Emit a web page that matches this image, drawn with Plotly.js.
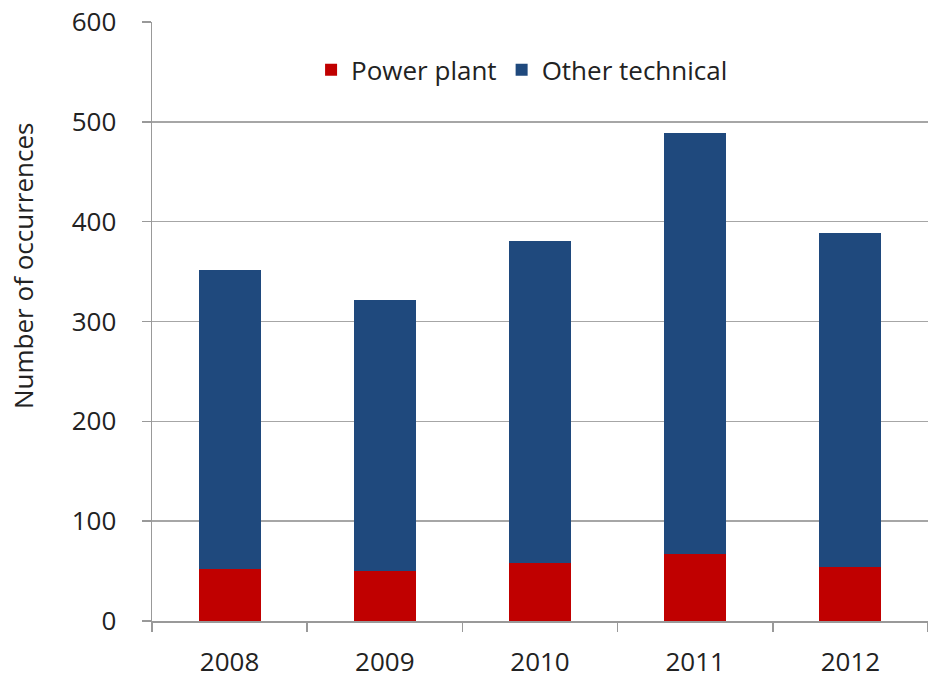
<!DOCTYPE html>
<html>
<head>
<meta charset="utf-8">
<script src="https://cdn.plot.ly/plotly-3.0.1.min.js"></script>
<style>html,body{margin:0;padding:0;background:#fff;}#chart{width:928px;height:678px;}</style>
</head>
<body>
<div id="chart"></div>
<script>
const years = ["2008", "2009", "2010", "2011", "2012"];
const powerPlant = [52, 50, 58, 67, 54];
const otherTechnical = [300, 272, 323, 422, 335];
const yTicks = [0, 100, 200, 300, 400, 500, 600];
const yTitle = "Number of occurrences";

const fontFamily = "Open Sans, Noto Sans, sans-serif";

const traces = [
  {type: "bar", name: "Power plant", x: years, y: powerPlant,
   marker: {color: "#c00000"}, hoverinfo: "x+y+name"},
  {type: "bar", name: "Other technical", x: years, y: otherTechnical,
   marker: {color: "#1f497d"}, hoverinfo: "x+y+name"}
];

const layout = {
  width: 928, height: 678,
  margin: {l: 152, r: 0, t: 22, b: 57, pad: 0},
  paper_bgcolor: "#fff", plot_bgcolor: "#fff",
  barmode: "stack", bargap: 0.6,
  font: {family: fontFamily, size: 26, color: "#222"},
  showlegend: true,
  legend: {orientation: "h", x: 0.205, xanchor: "left", y: 0.92, yanchor: "middle",
           traceorder: "normal", font: {size: 26, color: "#222"}, itemwidth: 30,
           bgcolor: "rgba(0,0,0,0)"},
  xaxis: {type: "category", showline: true, linecolor: "#999", linewidth: 1.5,
          ticks: "outside", tickson: "boundaries", ticklen: 9, tickcolor: "#999", tickwidth: 1.5,
          ticklabelstandoff: 17,
          tickfont: {size: 26, color: "#222"}, showgrid: false},
  yaxis: {range: [0, 600], tickvals: yTicks, ticktext: yTicks.map(String),
          showline: true, linecolor: "#999", linewidth: 1.5,
          ticks: "outside", ticklen: 9, tickcolor: "#999", tickwidth: 1.5,
          ticklabelstandoff: 20,
          gridcolor: "#a6a6a6", gridwidth: 1.5, zeroline: false,
          tickfont: {size: 26, color: "#222"}},
  annotations: [{text: yTitle, xref: "paper", yref: "paper", x: -0.166, y: 0.593,
                 xanchor: "center", yanchor: "middle", textangle: -90, showarrow: false,
                 font: {size: 26, color: "#222"}}]
};

Plotly.newPlot("chart", traces, layout, {displayModeBar: false, staticPlot: true});
</script>
</body>
</html>
